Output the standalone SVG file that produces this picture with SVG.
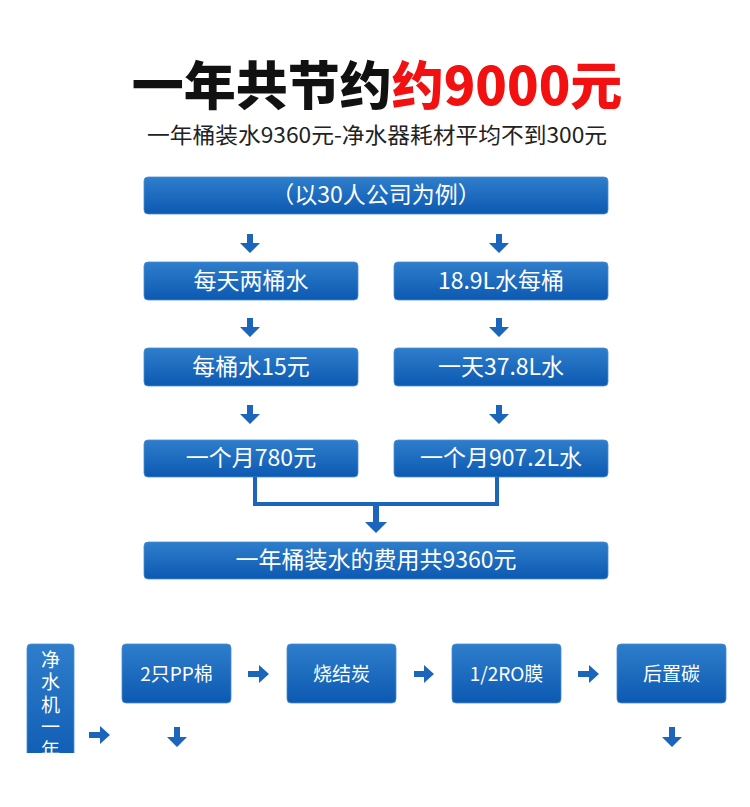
<svg xmlns="http://www.w3.org/2000/svg" width="750" height="807" viewBox="0 0 750 807">
  <defs>
    <linearGradient id="boxg" x1="0" y1="0" x2="0" y2="1">
      <stop offset="0" stop-color="#2f7ecb"/>
      <stop offset="1" stop-color="#0c59b2"/>
    </linearGradient>
    <clipPath id="cut"><rect x="0" y="0" width="750" height="753"/></clipPath>
  </defs>
  <style>
    .box { fill: url(#boxg); stroke: #4a8ed3; stroke-width: 0.8; }
    .t { font-family: "Noto Sans CJK SC", "Noto Sans", sans-serif; fill: #ffffff; text-anchor: middle; }
    .t23 { font-size: 23px; }
    .t19 { font-size: 19px; }
    .vt { font-family: "Noto Sans CJK SC", "Noto Sans", sans-serif; fill: #ffffff; font-size: 19px; writing-mode: vertical-rl; letter-spacing: 3.5px; }
    .arr { fill: #1b66bb; }
    .line { fill: none; stroke: #1b66bb; stroke-width: 4; }
  </style>
  <rect width="750" height="807" fill="#ffffff"/>

  <g id="title">
    <text x="377" y="105" font-family="'Noto Sans CJK SC', sans-serif" font-size="52" font-weight="900" text-anchor="middle"><tspan fill="#111111">一年共节约</tspan><tspan fill="#f21010">约9000元</tspan></text>
  </g>
  <g id="subtitle">
    <text x="377" y="143" font-family="'Noto Sans CJK SC', sans-serif" font-size="22" fill="#222222" text-anchor="middle" textLength="460" lengthAdjust="spacingAndGlyphs">一年桶装水9360元-净水器耗材平均不到300元</text>
  </g>

  <g id="n-example"><rect class="box" x="144" y="177" width="464" height="37" rx="4"/><text class="t t23" x="376" y="203">（以30人公司为例）</text></g>
  <g id="n-daily"><rect class="box" x="144" y="262" width="214" height="38" rx="4"/><text class="t t23" x="251" y="289">每天两桶水</text></g>
  <g id="n-perbucket"><rect class="box" x="394" y="262" width="214" height="38" rx="4"/><text class="t t23" x="501" y="289">18.9L水每桶</text></g>
  <g id="n-price"><rect class="box" x="144" y="348" width="214" height="38" rx="4"/><text class="t t23" x="251" y="375">每桶水15元</text></g>
  <g id="n-dayvol"><rect class="box" x="394" y="348" width="214" height="38" rx="4"/><text class="t t23" x="501" y="375">一天37.8L水</text></g>
  <g id="n-monthcost"><rect class="box" x="144" y="440" width="214" height="37" rx="4"/><text class="t t23" x="251" y="466">一个月780元</text></g>
  <g id="n-monthvol"><rect class="box" x="394" y="440" width="214" height="37" rx="4"/><text class="t t23" x="501" y="466">一个月907.2L水</text></g>
  <g id="n-yearcost"><rect class="box" x="144" y="542" width="464" height="37" rx="4"/><text class="t t23" x="376" y="568">一年桶装水的费用共9360元</text></g>

  <g id="n-purifier" clip-path="url(#cut)">
    <rect class="box" x="27" y="644" width="47" height="130" rx="4"/>
    <text class="vt" x="50.5" y="650">净水机一年</text>
  </g>
  <g id="n-pp"><rect class="box" x="122" y="644" width="109" height="59" rx="4"/><text class="t t19" x="176.5" y="681">2只PP棉</text></g>
  <g id="n-carbon"><rect class="box" x="287" y="644" width="109" height="59" rx="4"/><text class="t t19" x="341.5" y="681">烧结炭</text></g>
  <g id="n-ro"><rect class="box" x="452" y="644" width="109" height="59" rx="4"/><text class="t t19" x="506.5" y="681">1/2RO膜</text></g>
  <g id="n-post"><rect class="box" x="617" y="644" width="109" height="59" rx="4"/><text class="t t19" x="671.5" y="681">后置碳</text></g>

  <g id="connectors">
    <path class="arr" d="M247 234 h6 v9 h7 l-10 10 l-10 -10 h7 z"/>
    <path class="arr" d="M496 234 h6 v9 h7 l-10 10 l-10 -10 h7 z"/>
    <path class="arr" d="M247 318 h6 v9 h7 l-10 10 l-10 -10 h7 z"/>
    <path class="arr" d="M496 318 h6 v9 h7 l-10 10 l-10 -10 h7 z"/>
    <path class="arr" d="M247 405 h6 v9 h7 l-10 10 l-10 -10 h7 z"/>
    <path class="arr" d="M496 405 h6 v9 h7 l-10 10 l-10 -10 h7 z"/>
    <polyline class="line" points="255,477 255,504 497,504 497,477"/>
    <path class="arr" d="M373 506 h6 v16 h8 l-11 11 l-11 -11 h8 z"/>
    <path class="arr" d="M248 671 h11 v-6 l10 9 l-10 9 v-6 h-11 z"/>
    <path class="arr" d="M414 671 h10 v-6 l10 9 l-10 9 v-6 h-10 z"/>
    <path class="arr" d="M578 671 h11 v-6 l10 9 l-10 9 v-6 h-11 z"/>
    <path class="arr" d="M89 732 h11 v-6 l10 9 l-10 9 v-6 h-11 z"/>
    <path class="arr" d="M174 727 h6 v10 h7 l-10 10 l-10 -10 h7 z"/>
    <path class="arr" d="M669 727 h6 v10 h7 l-10 10 l-10 -10 h7 z"/>
  </g>
</svg>
